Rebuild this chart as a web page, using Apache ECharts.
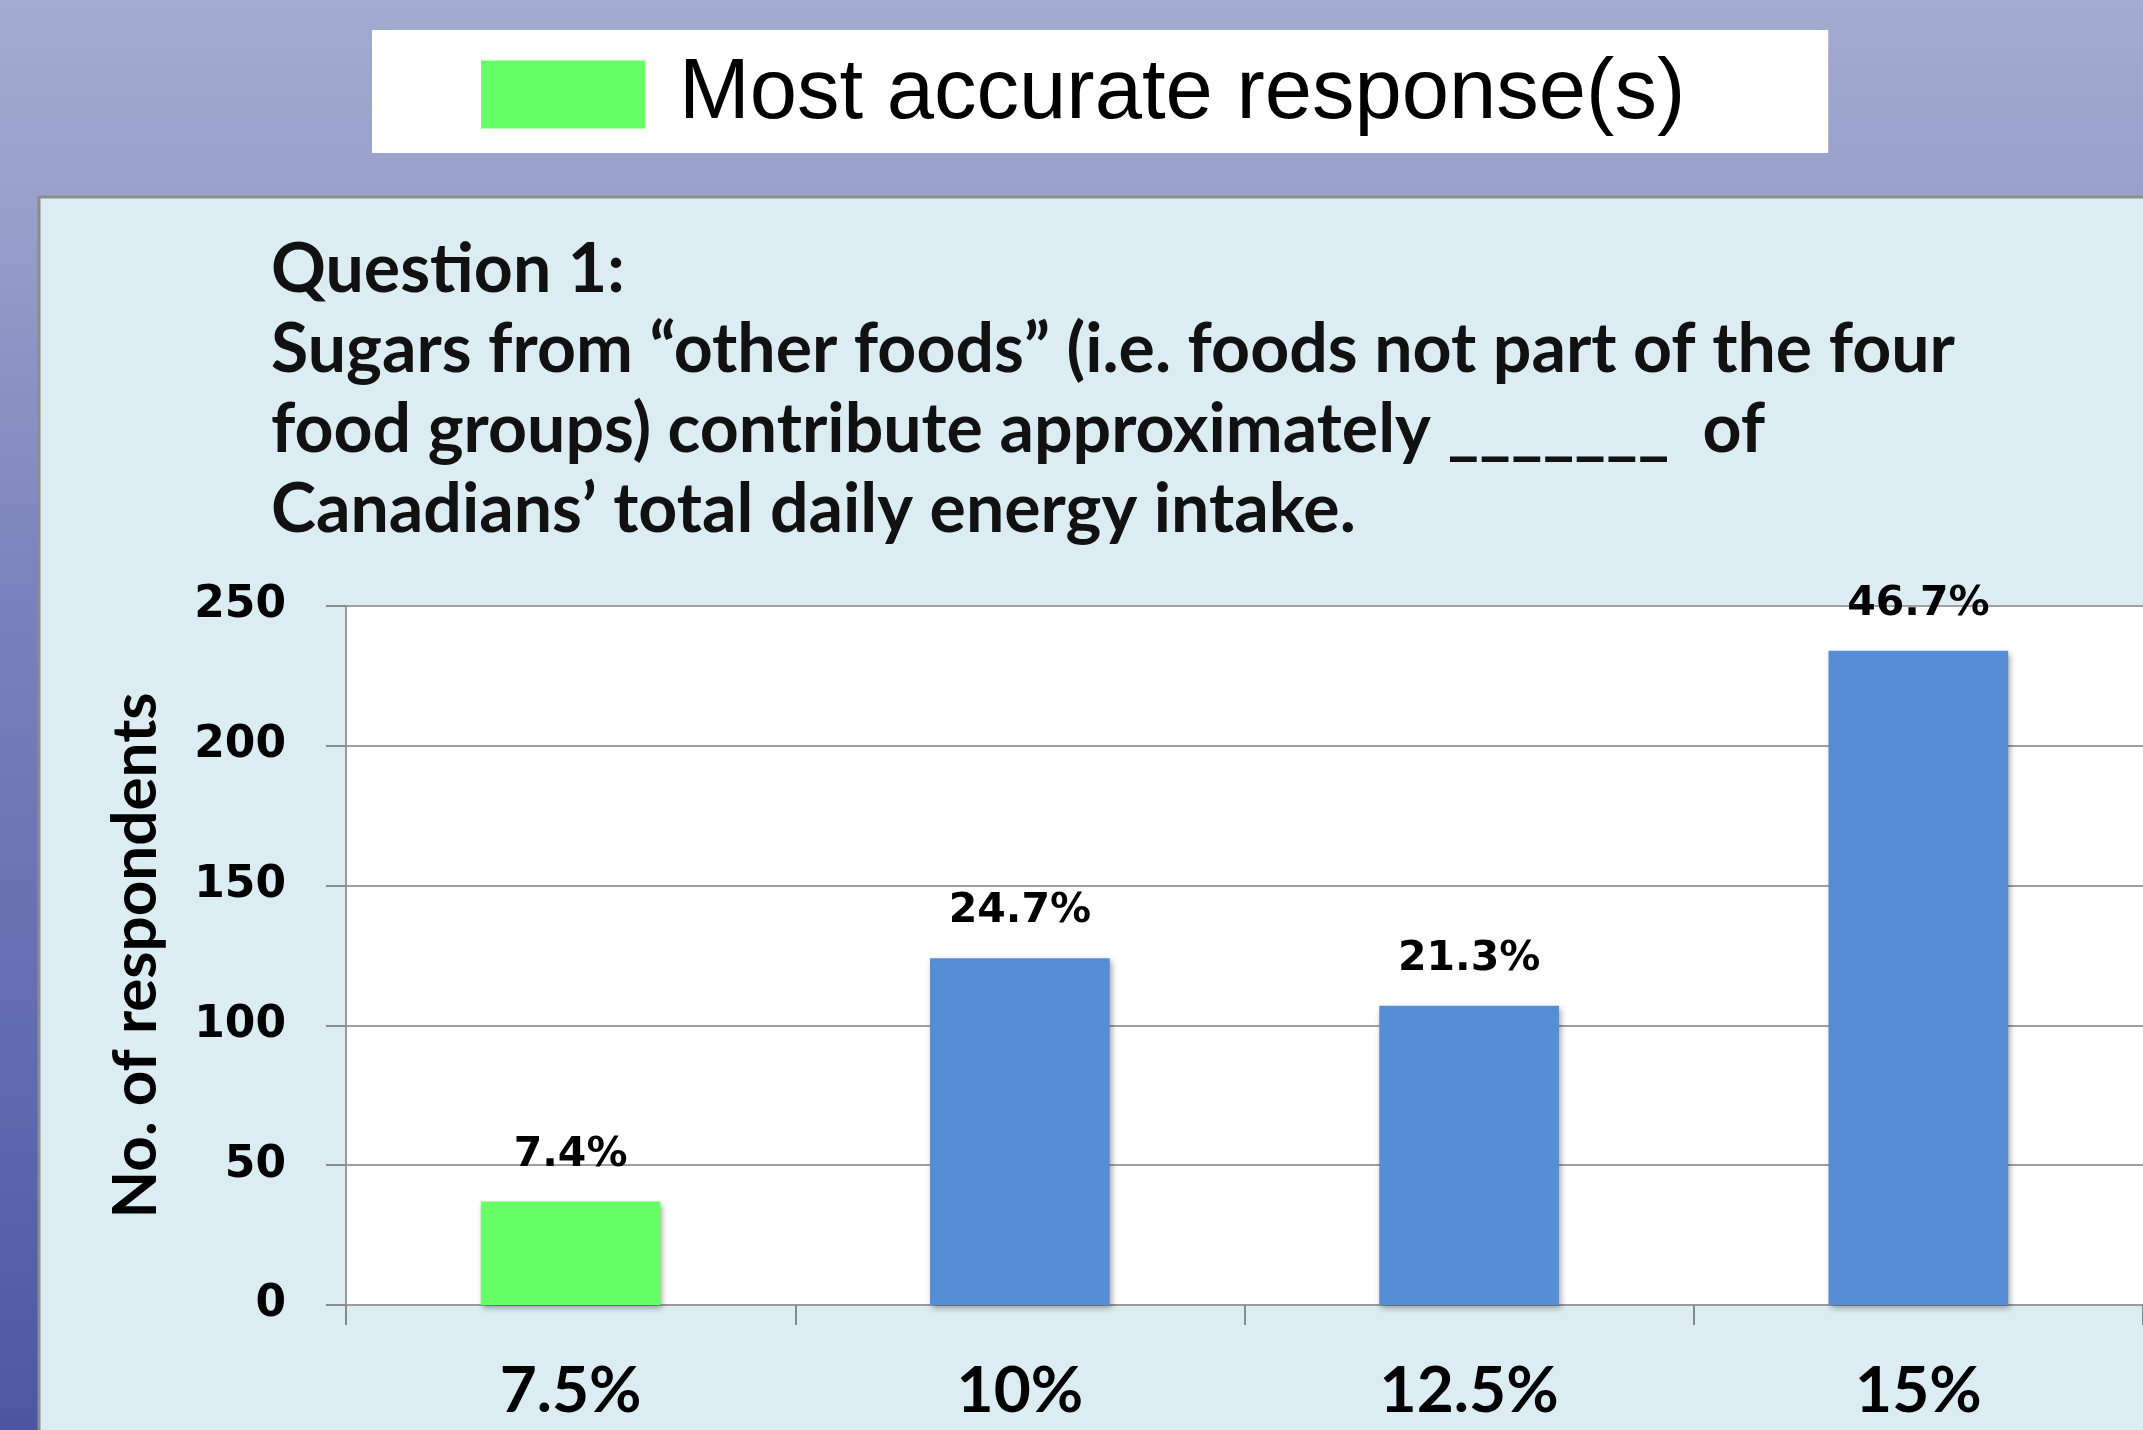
<!DOCTYPE html>
<html>
<head>
<meta charset="utf-8">
<script src="https://cdn.jsdelivr.net/npm/echarts@6/dist/echarts.min.js"></script>
<style>
html,body{margin:0;padding:0;}
#c{width:2143px;height:1430px;}
</style>
</head>
<body>
<div id="c"></div>
<script>
// ---- data ----
const categories = ['7.5%', '10%', '12.5%', '15%'];
const respondents = [37, 124, 107, 234];
const pctLabels = ['7.4%', '24.7%', '21.3%', '46.7%'];
const correctFlags = [true, false, false, false];
const yTicks = [0, 50, 100, 150, 200, 250];
const legendLabel = 'Most accurate response(s)';
const titleLines = [
  'Question 1:',
  'Sugars from \u201Cother foods\u201D (i.e. foods not part of the four',
  'food groups) contribute approximately _______  of',
  'Canadians\u2019 total daily energy intake.'
];
const yAxisTitle = 'No. of respondents';

const GREEN = '#66ff66';
const BLUE = '#558ed5';

const chart = echarts.init(document.getElementById('c'), null, {renderer: 'canvas'});

const option = {
  backgroundColor: new echarts.graphic.LinearGradient(0, 0, 0, 1, [
    {offset: 0, color: '#a4abd0'},
    {offset: 0.14, color: '#98a0cb'},
    {offset: 0.4, color: '#7c84be'},
    {offset: 1, color: '#4b57a3'}
  ]),
  animation: false,
  graphic: [
    {
      type: 'rect', z: -10,
      shape: {x: 39, y: 197, width: 2200, height: 1400},
      style: {fill: '#dbedf3', stroke: '#8c8c8c', lineWidth: 3}
    }
  ],
  title: {
    text: titleLines.join('\n'),
    left: 266, top: 225,
    textStyle: {
      fontFamily: 'Lato', fontWeight: 'bold', fontSize: 68,
      lineHeight: 80, color: '#111'
    }
  },
  legend: {
    data: [legendLabel],
    left: 372, top: 30,
    backgroundColor: '#ffffff',
    padding: [22, 143, 16, 109],
    itemWidth: 164, itemHeight: 68,
    icon: 'rect',
    textStyle: {
      fontFamily: 'Liberation Sans', fontSize: 85, color: '#000',
      lineHeight: 76, padding: [6, 0, 0, 29]
    }
  },
  grid: {
    left: 346, top: 606, width: 1800, height: 699,
    show: true, backgroundColor: '#ffffff', borderWidth: 0
  },
  xAxis: {
    type: 'category',
    data: categories,
    axisLine: {lineStyle: {color: '#9a9a9a', width: 2}},
    axisTick: {show: true, length: 20, lineStyle: {color: '#8a8a8a', width: 2}},
    axisLabel: {
      margin: 54,
      fontFamily: 'Lato', fontWeight: 'bold', fontSize: 64, color: '#000'
    }
  },
  yAxis: {
    type: 'value',
    min: yTicks[0], max: yTicks[yTicks.length - 1], interval: 50,
    name: yAxisTitle,
    nameLocation: 'middle', nameRotate: 90, nameGap: 179,
    nameTextStyle: {fontFamily: 'Lato', fontWeight: 'bold', fontSize: 62, color: '#000'},
    axisLine: {show: true, lineStyle: {color: '#9a9a9a', width: 2}},
    axisTick: {show: true, length: 20, lineStyle: {color: '#8a8a8a', width: 2}},
    splitLine: {lineStyle: {color: '#a0a0a0', width: 2}},
    axisLabel: {
      margin: 60,
      fontFamily: 'DejaVu Sans', fontWeight: 'bold', fontSize: 44, color: '#000'
    }
  },
  series: [{
    name: legendLabel,
    type: 'bar',
    barWidth: '40%',
    itemStyle: {color: GREEN},
    data: respondents.map((v, i) => ({
      value: v,
      itemStyle: {
        color: correctFlags[i] ? GREEN : BLUE,
        shadowBlur: 6, shadowColor: 'rgba(0,0,0,0.35)', shadowOffsetX: 2, shadowOffsetY: 3
      }
    })),
    label: {
      show: true, position: 'top', distance: 26,
      formatter: p => pctLabels[p.dataIndex],
      fontFamily: 'DejaVu Sans', fontWeight: 'bold', fontSize: 41, color: '#000'
    }
  }]
};
chart.setOption(option);
</script>
</body>
</html>
